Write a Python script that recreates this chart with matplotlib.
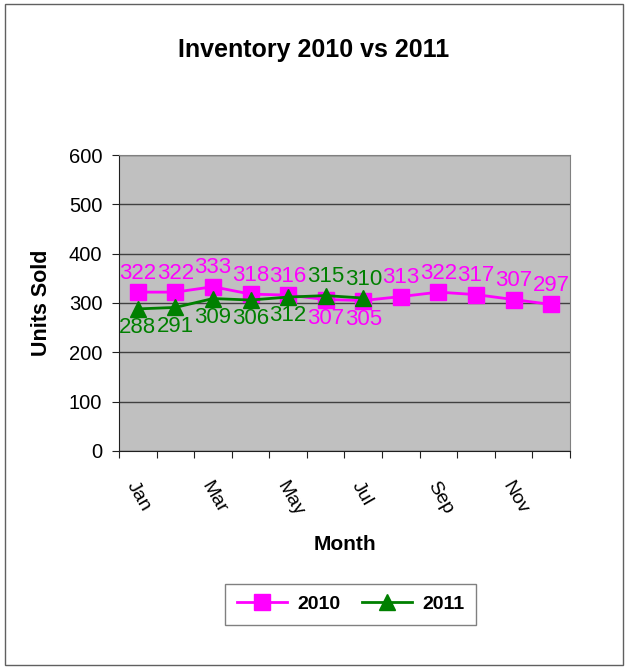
import numpy as np
import matplotlib
matplotlib.use('Agg')
import matplotlib.pyplot as plt
from matplotlib.patches import Rectangle

plt.rcParams['font.family'] = ['Liberation Sans', 'DejaVu Sans']

months = ['Jan', 'Feb', 'Mar', 'Apr', 'May', 'Jun', 'Jul', 'Aug', 'Sep', 'Oct', 'Nov', 'Dec']
sales_2010 = [322, 322, 333, 318, 316, 307, 305, 313, 322, 317, 307, 297]
sales_2011 = [288, 291, 309, 306, 312, 315, 310]
# label placement per point (1 above, -1 below)
place_2010 = [1, 1, 1, 1, 1, -1, -1, 1, 1, 1, 1, 1]
place_2011 = [-1, -1, -1, -1, -1, 1, 1]

MAG = '#ff00ff'
GRN = '#008000'

fig = plt.figure(figsize=(6.28, 6.69), dpi=100)
fig.patches.append(Rectangle((0.008, 0.006), 0.984, 0.988, transform=fig.transFigure,
                             fill=False, edgecolor='#606060', linewidth=1))

ax = fig.add_axes([0.1895, 0.3259, 0.7181, 0.4424])
ax.set_facecolor('#c0c0c0')

x = np.arange(1, len(months) + 1)
ax.plot(x, sales_2010, color=MAG, marker='s', markersize=11, linewidth=2, label='2010')
ax.plot(x[:len(sales_2011)], sales_2011, color=GRN, marker='^', markersize=11, linewidth=2, label='2011')

for xi, v, p in zip(x, sales_2010, place_2010):
    ax.text(xi, v + p * 17, str(v), color=MAG, fontsize=16, ha='center',
            va='bottom' if p > 0 else 'top')
for xi, v, p in zip(x, sales_2011, place_2011):
    ax.text(xi, v + p * 17, str(v), color=GRN, fontsize=16, ha='center',
            va='bottom' if p > 0 else 'top')

ax.set_xlim(0.5, 12.5)
ax.set_ylim(0, 600)
ax.set_yticks(range(0, 601, 100))
ax.yaxis.grid(True, color='#404040', linewidth=1)
ax.set_axisbelow(True)
ax.set_xticks(np.arange(0.5, 12.6, 1))
ax.set_xticklabels([])
ax.set_xticks(x[::2], minor=True)
ax.set_xticklabels(months[::2], minor=True, rotation=-60, ha='left', va='top',
                   rotation_mode='anchor', fontsize=14)
ax.tick_params(axis='x', which='minor', length=0, pad=20)
ax.tick_params(axis='x', which='major', length=5, direction='out', color='#202020')
ax.tick_params(axis='y', length=5, direction='out', color='#202020', labelsize=14.5, pad=7)
for s in ax.spines.values():
    s.set_color('#808080')
ax.spines['left'].set_color('#202020')
ax.spines['bottom'].set_color('#202020')

ax.set_ylabel('Units Sold', fontsize=15.5, fontweight='bold', labelpad=12)
ax.set_xlabel('Month', fontsize=15, fontweight='bold', labelpad=11)
fig.text(0.5, 0.925, 'Inventory 2010 vs 2011', fontsize=18, fontweight='bold',
         ha='center', va='center')

leg = fig.legend(loc='center', bbox_to_anchor=(0.558, 0.097), ncol=2, frameon=True,
                 fancybox=False, edgecolor='#606060', prop={'weight': 'bold', 'size': 14},
                 handlelength=2.6, columnspacing=1.1, borderpad=0.6, handletextpad=0.5)
leg.get_frame().set_linewidth(1)

plt.savefig('out.png', dpi=100)
